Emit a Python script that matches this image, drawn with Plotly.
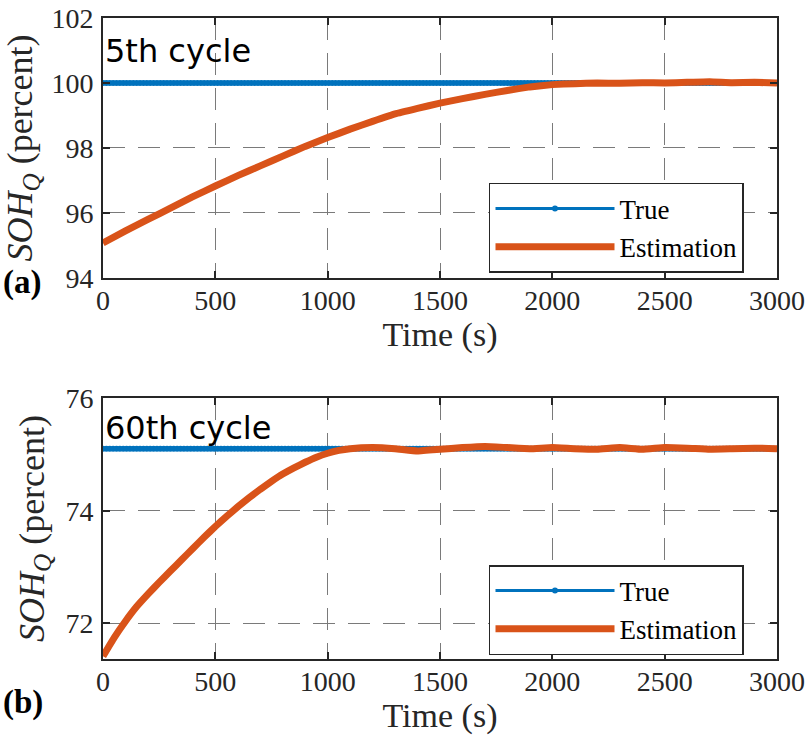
import numpy as np
import plotly.graph_objects as go
from plotly.subplots import make_subplots

# ---- data ----
time_est_5th = [0, 100, 200, 300, 400, 500, 600, 700, 800, 900, 1000, 1100, 1200, 1300, 1400,
                1500, 1600, 1700, 1800, 1900, 2000, 2100, 2200, 2300, 2400, 2500, 2600, 2700,
                2800, 2900, 3000]
est_5th = [95.08, 95.45, 95.8, 96.15, 96.5, 96.83, 97.15, 97.45, 97.75, 98.05, 98.32, 98.58,
           98.82, 99.05, 99.22, 99.38, 99.52, 99.65, 99.77, 99.88, 99.95, 99.98, 100.0, 99.99,
           100.01, 100.0, 100.02, 100.04, 100.01, 100.02, 100.0]
time_est_60th = [0, 50, 100, 150, 200, 250, 300, 350, 400, 450, 500, 550, 600, 650, 700, 750,
                 800, 850, 900, 950, 1000, 1050, 1100, 1200, 1300, 1400, 1500, 1600, 1700,
                 1800, 1900, 2000, 2100, 2200, 2300, 2400, 2500, 2600, 2700, 2800, 2900, 3000]
est_60th = [71.42, 71.75, 72.04, 72.30, 72.52, 72.73, 72.93, 73.13, 73.33, 73.53, 73.72, 73.9,
            74.07, 74.23, 74.38, 74.52, 74.65, 74.76, 74.86, 74.95, 75.02, 75.07, 75.10,
            75.12, 75.1, 75.06, 75.09, 75.12, 75.14, 75.12, 75.1, 75.12, 75.1, 75.09, 75.12,
            75.09, 75.12, 75.11, 75.09, 75.1, 75.11, 75.1]
true_5th = 100.0
true_60th = 75.1
time_true = list(range(0, 3001, 15))

x_ticks = [0, 500, 1000, 1500, 2000, 2500, 3000]
y_ticks_top = [94, 96, 98, 100, 102]
y_ticks_bot = [72, 74, 76]

BLUE = "#0072BD"
ORANGE = "#D95319"
SERIF = "Liberation Serif, Times New Roman, serif"
TXT = "#262626"

fig = make_subplots(rows=2, cols=1, vertical_spacing=0.0)

for row, tv, tx, est, leg in [(1, true_5th, time_est_5th, est_5th, "legend"),
                              (2, true_60th, time_est_60th, est_60th, "legend2")]:
    fig.add_trace(go.Scatter(
        x=time_true, y=[tv] * len(time_true), mode="lines+markers", name="True",
        line=dict(color=BLUE, width=3), marker=dict(color=BLUE, size=6),
        legend=leg, showlegend=True), row=row, col=1)
    fig.add_trace(go.Scatter(
        x=tx, y=est, mode="lines", name="Estimation",
        line=dict(color=ORANGE, width=7, shape="spline", smoothing=0.3),
        legend=leg, showlegend=True), row=row, col=1)

axis_common = dict(
    showline=True, linecolor=TXT, linewidth=2, mirror="ticks",
    ticks="inside", ticklen=7, tickwidth=1.5, tickcolor=TXT,
    showgrid=True, gridcolor="#7a7a7a", gridwidth=1, griddash="22px,13px",
    zeroline=False, automargin=False,
    tickfont=dict(family=SERIF, size=28, color=TXT),
)

fig.update_xaxes(**axis_common, range=[0, 3000], tickvals=x_ticks, ticklabelstandoff=-4,
                 title=dict(text="Time (s)", font=dict(family=SERIF, size=34, color=TXT),
                            standoff=0))
fig.update_yaxes(**axis_common, ticklabelstandoff=2,
                 title=dict(text="<i>SOH</i><sub><i>Q</i></sub> (percent)",
                            font=dict(family=SERIF, size=36, color=TXT), standoff=10))
fig.update_yaxes(range=[94, 102], tickvals=y_ticks_top, row=1, col=1)
fig.update_yaxes(range=[71.37, 76], tickvals=y_ticks_bot, row=2, col=1)

fig.update_layout(
    xaxis=dict(domain=[0, 1]), xaxis2=dict(domain=[0, 1]),
    yaxis=dict(domain=[0.5944, 1.0]), yaxis2=dict(domain=[0.0, 0.4072]),
)

legend_common = dict(
    font=dict(family=SERIF, size=27, color="#000000"),
    bgcolor="white", bordercolor=TXT, borderwidth=1.5,
    itemwidth=119, xanchor="left", yanchor="top", tracegroupgap=0,
)
fig.update_layout(
    legend=dict(**legend_common, x=0.5727, y=0.7426),
    legend2=dict(**legend_common, x=0.5727, y=0.1466),
)

fig.add_annotation(text="5th cycle", xref="paper", yref="paper", x=0.0, y=0.9485,
                   xanchor="left", yanchor="middle", showarrow=False,
                   font=dict(family="DejaVu Sans, Arial, sans-serif", size=32, color="black"))
fig.add_annotation(text="60th cycle", xref="paper", yref="paper", x=0.0, y=0.3604,
                   xanchor="left", yanchor="middle", showarrow=False,
                   font=dict(family="DejaVu Sans, Arial, sans-serif", size=32, color="black"))
fig.add_annotation(text="<b>(a)</b>", xref="paper", yref="paper", x=-0.152, y=0.5866,
                   xanchor="left", yanchor="middle", showarrow=False,
                   font=dict(family=SERIF, size=33, color="black"))
fig.add_annotation(text="<b>(b)</b>", xref="paper", yref="paper", x=-0.152, y=-0.0686,
                   xanchor="left", yanchor="middle", showarrow=False,
                   font=dict(family=SERIF, size=33, color="black"))

fig.update_layout(
    width=808, height=741, margin=dict(l=103, r=31, t=18, b=82),
    plot_bgcolor="white", paper_bgcolor="white",
)

fig.write_html("out.html")
